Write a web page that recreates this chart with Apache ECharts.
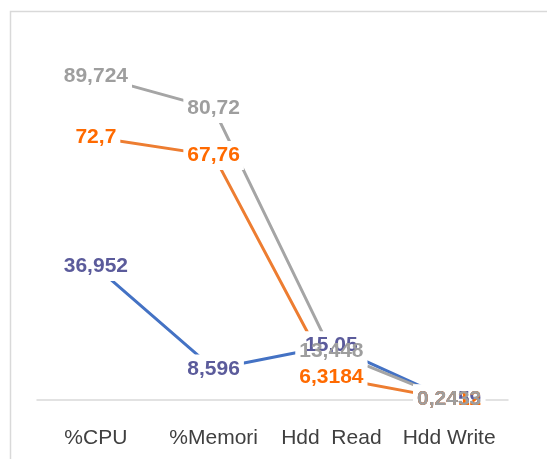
<!DOCTYPE html>
<html>
<head>
<meta charset="utf-8">
<script src="https://cdn.jsdelivr.net/npm/echarts@6/dist/echarts.min.js"></script>
<style>
  html, body { margin: 0; padding: 0; background: #fff; }
  #chart { width: 547px; height: 459px; }
</style>
</head>
<body>
<div id="chart"></div>
<script>
// kategori
var categories = ['%CPU', '%Memori', 'Hdd  Read', 'Hdd Write'];
// nilai tiap seri
var seriesBlue = [36.952, 8.596, 15.05, 0.2459];
var seriesOrange = [72.7, 67.76, 6.3184, 0.2412];
var seriesGray = [89.724, 80.72, 13.448, 0.2433];

var labelFont = '"Liberation Sans", Arial, sans-serif';

function fmt(p) {
  return String(p.value).replace('.', ',');
}

// garis + kotak putih di bawah label (memotong garis)
function lineSeries(data, lineColor) {
  return {
    type: 'line',
    z: 2,
    data: data,
    symbol: 'circle',
    symbolSize: 1,
    itemStyle: { color: lineColor },
    lineStyle: { color: lineColor, width: 3 },
    label: {
      show: true,
      position: 'inside',
      color: 'rgba(255,255,255,0)',
      fontFamily: labelFont,
      fontWeight: 'bold',
      fontSize: 21,
      backgroundColor: '#fff',
      padding: [4, 4],
      formatter: fmt
    },
    animation: false
  };
}

// teks label di atas semua garis
function labelSeries(data, labelColor) {
  return {
    type: 'line',
    z: 5,
    data: data,
    symbol: 'circle',
    symbolSize: 1,
    itemStyle: { color: 'rgba(255,255,255,0)' },
    lineStyle: { width: 0, color: 'rgba(255,255,255,0)' },
    label: {
      show: true,
      position: 'inside',
      color: labelColor,
      fontFamily: labelFont,
      fontWeight: 'bold',
      fontSize: 21,
      padding: [4, 4],
      formatter: fmt
    },
    animation: false
  };
}

var chart = echarts.init(document.getElementById('chart'));

var option = {
  backgroundColor: '#fff',
  graphic: [{
    type: 'rect',
    shape: { x: 10.5, y: 11.5, width: 600, height: 500 },
    style: { fill: 'none', stroke: '#d9d9d9', lineWidth: 1.5 },
    silent: true
  }],
  grid: { left: 37, right: 39, top: 39, bottom: 59 },
  xAxis: {
    type: 'category',
    data: categories,
    boundaryGap: true,
    axisLine: { show: true, lineStyle: { color: '#d9d9d9', width: 1.5 } },
    axisTick: { show: false },
    axisLabel: {
      color: '#404040',
      fontFamily: labelFont,
      fontSize: 21,
      margin: 28,
      interval: 0
    }
  },
  yAxis: {
    type: 'value',
    min: 0,
    max: 100,
    show: false,
    splitLine: { show: false }
  },
  series: [
    lineSeries(seriesBlue, '#4472c4'),
    lineSeries(seriesOrange, '#ed7d31'),
    lineSeries(seriesGray, '#a5a5a5'),
    labelSeries(seriesBlue, '#5b5b9b'),
    labelSeries(seriesOrange, '#ff6a00'),
    labelSeries(seriesGray, '#9e9e9e')
  ]
};

chart.setOption(option);
</script>
</body>
</html>
